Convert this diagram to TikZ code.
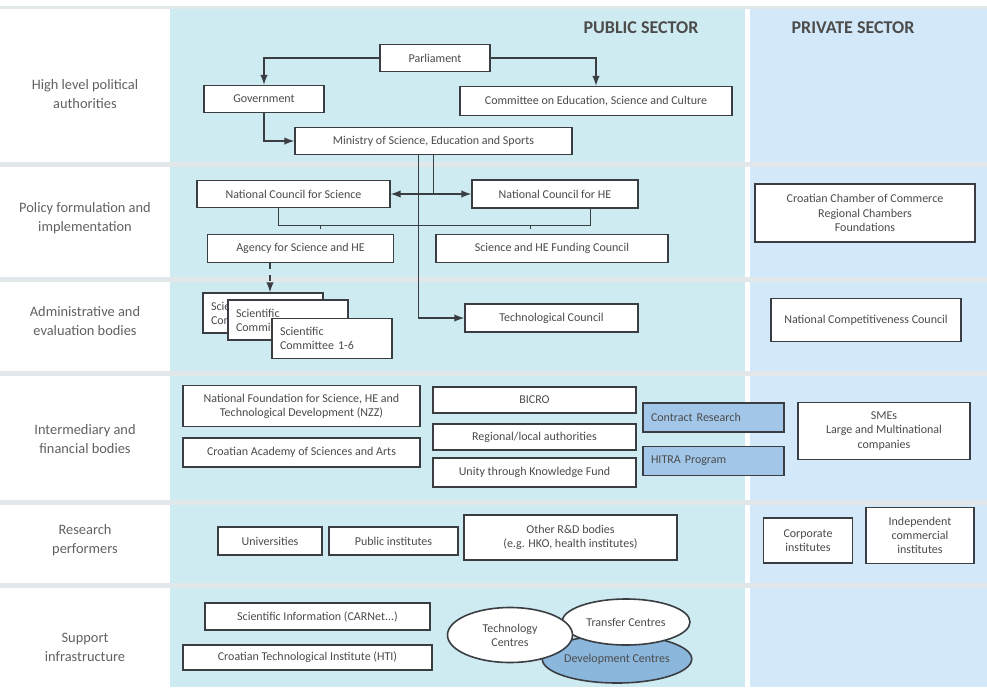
\documentclass[tikz,border=0pt]{standalone}
\usepackage{fontspec}
\setmainfont{Carlito}
\usepackage{tikz}
\usetikzlibrary{shapes.geometric}
\definecolor{publicbg}{RGB}{207,235,242}
\definecolor{privatebg}{RGB}{211,233,249}
\definecolor{rowsep}{RGB}{226,231,234}
\definecolor{boxline}{RGB}{58,62,66}
\definecolor{boxtext}{RGB}{75,75,75}
\definecolor{progblue}{RGB}{162,198,232}
\definecolor{centreblue}{RGB}{140,183,221}
\tikzset{
  unit/.style={draw=boxline, fill=white, line width=0.8pt, align=center,
    text=boxtext, font=\fontsize{6}{7.1}\selectfont, inner sep=1pt},
  sized/.style 2 args={minimum width=#1*0.5pt, minimum height=#2*0.5pt},
  stack/.style={unit, minimum height=20pt, text width=52pt, align=left, inner xsep=4pt},
  prog/.style={unit, fill=progblue, text width=62.5pt, align=left, inner xsep=4pt, minimum height=14.5pt},
  centre/.style={unit, ellipse, inner sep=0pt},
  level/.style={align=center, text=black!62, font=\fontsize{7.2}{9.5}\selectfont},
  sector/.style={text=black!70, font=\fontsize{9}{10}\selectfont\bfseries},
  link/.style={draw=boxline, line width=0.7pt},
  arr/.style={link, -latex}
}

\begin{document}
\begin{tikzpicture}[x=0.5pt, y=-0.5pt]
\useasboundingbox (0,0) rectangle (987,687);

% background columns and rows
\fill[white] (0,0) rectangle (987,687);
\fill[publicbg] (170,8) rectangle (745,687);
\fill[privatebg] (750,8) rectangle (987,687);
\fill[rowsep] (0,6) rectangle (987,9);
\foreach \y in {162,277,371,500,583}
  \fill[rowsep] (0,\y) rectangle (987,\y+5);

% row titles
\node[level] (lvlpol) at (85,94) {High level political\\authorities};
\node[level] (lvlpolicy) at (85,218) {Policy formulation and\\implementation};
\node[level] (lvladm) at (85,321) {Administrative and\\evaluation bodies};
\node[level] (lvlfin) at (85,439) {Intermediary and\\financial bodies};
\node[level] (lvlres) at (85,540) {Research\\performers};
\node[level] (lvlsup) at (85,647) {Support\\infrastructure};

\node[sector] (pub) at (641,28) {PUBLIC SECTOR};
\node[sector] (priv) at (853,28) {PRIVATE SECTOR};

% political level
\node[unit, sized={110}{27}] (parl) at (435,58) {Parliament};
\node[unit, sized={120}{27}] (gov) at (264,99) {Government};
\node[unit, sized={272}{29}] (comm) at (596,101) {Committee on Education, Science and Culture};
\node[unit, sized={277}{27}] (min) at (433.5,141) {Ministry of Science, Education and Sports};

\draw[arr] (parl.west) -| (gov.north);
\draw[arr] (parl.east) -| (comm.north);
\draw[arr] (gov.south) |- (min.west);

% policy level
\node[unit, sized={193}{27}] (ncs) at (293.5,194) {National Council for Science};
\node[unit, sized={166}{28}] (nche) at (555,194) {National Council for HE};
\node[unit, sized={186}{28}] (agency) at (300.5,248.5) {Agency for Science and HE};
\node[unit, sized={232}{28}] (fund) at (552,248.5) {Science and HE Funding Council};
\node[unit, sized={220}{58}] (chamber) at (865,213) {Croatian Chamber of Commerce\\Regional Chambers\\Foundations};

\draw[link, latex-latex] (ncs.east) -- (nche.west);
\draw[link] (min.south) -- (min.south |- ncs.east);
\coordinate (brl) at (278,225);
\coordinate (brr) at (590,225);
\draw[link, line width=0.4pt] (brl |- ncs.south) -- (brl) -- (brr) -- (brr |- nche.south);
\foreach \x in {320,530}
  \draw[link, line width=0.4pt] (\x,225) -- (\x,229);

% administrative level
\node[stack] (sc1) at (263,313) {Scientific\\Committees};
\node[stack] (sc2) at (288,320) {Scientific\\Committee};
\node[stack] (sc3) at (332,338.5) {Scientific\\Committee 1-6};
\node[unit, sized={173}{28}] (techc) at (551.5,318) {Technological Council};
\node[unit, sized={190}{43}] (ncc) at (866,320) {National Competitiveness Council};

\coordinate (ag) at (270,0);
\draw[arr, dashed] (agency.south -| ag) -- (sc1.north -| ag);
\draw[arr] ([xshift=-7.5pt]min.south) |- (techc.west);

% intermediary level
\node[unit, sized={237}{41}] (nzz) at (301.5,406) {National Foundation for Science, HE and\\Technological Development (NZZ)};
\node[unit, sized={237}{29}] (hazu) at (301.5,452.5) {Croatian Academy of Sciences and Arts};
\node[unit, sized={203}{26}] (bicro) at (534.5,400) {BICRO};
\node[unit, sized={203}{26}] (regauth) at (534.5,437) {Regional/local authorities};
\node[unit, sized={203}{29}] (ukf) at (534.5,472.5) {Unity through Knowledge Fund};
\node[prog] (contract) at (713.5,417.5) {Contract Research};
\node[prog] (hitra) at (713.5,461) {HITRA Program};
\node[unit, sized={172}{57}] (smes) at (884,431) {SMEs\\Large and Multinational\\companies};

% research performers
\node[unit, sized={104}{28}] (univ) at (270,541) {Universities};
\node[unit, sized={129}{28}] (pubinst) at (393.5,541) {Public institutes};
\node[unit, sized={213}{45}] (other) at (570.5,537.5) {Other R\&D bodies\\(e.g. HKO, health institutes)};
\node[unit, sized={89}{45}] (corp) at (808,540.5) {Corporate\\institutes};
\node[unit, sized={108}{56}] (indep) at (920,535.5) {Independent\\commercial\\institutes};

% support infrastructure
\node[unit, sized={225}{27}] (sciinfo) at (317.5,616.5) {Scientific Information (CARNet...)};
\node[unit, sized={249}{25}] (hti) at (307.5,657.5) {Croatian Technological Institute (HTI)};
\node[centre, fill=centreblue, sized={140}{48}] (devc) at (617,659) {Development Centres};
\node[centre, sized={128}{46}] (trans) at (626,622) {Transfer Centres};
\node[centre, sized={125}{55}] (techcen) at (510,635) {Technology\\Centres};

\end{tikzpicture}
\end{document}
